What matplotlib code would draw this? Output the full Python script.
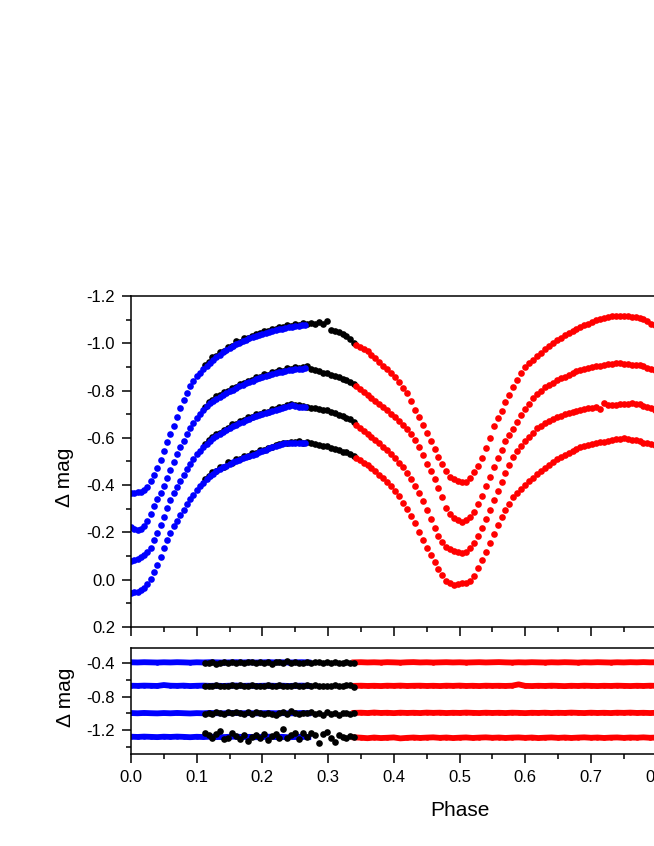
import numpy as np
import matplotlib.pyplot as plt
from matplotlib.ticker import MultipleLocator, FuncFormatter

plt.rcParams['font.family'] = ['Liberation Sans', 'DejaVu Sans']
plt.rcParams['axes.unicode_minus'] = False

#%% Curvas de luz (fase y diferencia de magnitud de cada banda)

# Fases de cada conjunto de datos
fase_azul = [0.000, 0.005, 0.010, 0.015, 0.020, 0.025, 0.030, 0.035, 0.040, 0.045,
             0.050, 0.055, 0.060, 0.065, 0.070, 0.075, 0.080, 0.085, 0.090, 0.095,
             0.100, 0.105, 0.110, 0.115, 0.120, 0.125, 0.130, 0.135, 0.140, 0.145,
             0.150, 0.155, 0.160, 0.165, 0.170, 0.175, 0.180, 0.185, 0.190, 0.195,
             0.200, 0.205, 0.210, 0.215, 0.220, 0.225, 0.230, 0.235, 0.240, 0.245,
             0.250, 0.255, 0.260, 0.265]

fase_negra = [0.112, 0.118, 0.124, 0.130, 0.136, 0.142, 0.148, 0.154, 0.160, 0.166,
              0.172, 0.178, 0.184, 0.190, 0.196, 0.202, 0.208, 0.214, 0.220, 0.226,
              0.232, 0.238, 0.244, 0.250, 0.256, 0.262, 0.268, 0.274, 0.280, 0.286,
              0.292, 0.298, 0.304, 0.310, 0.316, 0.322, 0.328, 0.334, 0.340]

fase_roja = [0.342, 0.348, 0.354, 0.360, 0.366, 0.372, 0.378, 0.384, 0.390, 0.396,
             0.402, 0.408, 0.414, 0.420, 0.426, 0.432, 0.438, 0.444, 0.450, 0.456,
             0.462, 0.468, 0.474, 0.480, 0.486, 0.492, 0.498, 0.504, 0.510, 0.516,
             0.522, 0.528, 0.534, 0.540, 0.546, 0.552, 0.558, 0.564, 0.570, 0.576,
             0.582, 0.588, 0.594, 0.600, 0.606, 0.612, 0.618, 0.624, 0.630, 0.636,
             0.642, 0.648, 0.654, 0.660, 0.666, 0.672, 0.678, 0.684, 0.690, 0.696,
             0.702, 0.708, 0.714, 0.720, 0.726, 0.732, 0.738, 0.744, 0.750, 0.756,
             0.762, 0.768, 0.774, 0.780, 0.786, 0.792, 0.798]

# Curva 1 (arriba)
azul_1 = [-0.366, -0.368, -0.369, -0.371, -0.378, -0.394, -0.418, -0.442, -0.474, -0.505,
          -0.543, -0.582, -0.618, -0.652, -0.690, -0.726, -0.760, -0.790, -0.818, -0.842,
          -0.860, -0.876, -0.890, -0.903, -0.917, -0.930, -0.942, -0.952, -0.961, -0.970,
          -0.979, -0.988, -0.996, -1.003, -1.009, -1.015, -1.021, -1.026, -1.031, -1.036,
          -1.040, -1.044, -1.048, -1.052, -1.056, -1.059, -1.062, -1.065, -1.068, -1.070,
          -1.072, -1.074, -1.075, -1.076]
negra_1 = [-0.910, -0.922, -0.940, -0.945, -0.963, -0.967, -0.985, -0.990, -1.008, -1.004,
           -1.021, -1.024, -1.031, -1.038, -1.042, -1.050, -1.051, -1.061, -1.059, -1.068,
           -1.067, -1.076, -1.072, -1.082, -1.078, -1.085, -1.080, -1.086, -1.080, -1.088,
           -1.082, -1.094, -1.056, -1.050, -1.046, -1.038, -1.030, -1.016, -1.003]
roja_1 = [-0.993, -0.985, -0.975, -0.966, -0.952, -0.937, -0.922, -0.905, -0.890, -0.876,
          -0.858, -0.838, -0.812, -0.788, -0.755, -0.718, -0.686, -0.655, -0.620, -0.588,
          -0.553, -0.518, -0.488, -0.458, -0.436, -0.424, -0.416, -0.412, -0.414, -0.432,
          -0.456, -0.480, -0.515, -0.556, -0.600, -0.648, -0.684, -0.715, -0.750, -0.783,
          -0.815, -0.846, -0.875, -0.898, -0.917, -0.931, -0.945, -0.960, -0.975, -0.988,
          -1.000, -1.012, -1.024, -1.034, -1.044, -1.053, -1.062, -1.069, -1.076, -1.083,
          -1.090, -1.097, -1.103, -1.108, -1.112, -1.114, -1.116, -1.116, -1.115, -1.114,
          -1.112, -1.110, -1.106, -1.101, -1.094, -1.083, -1.077]

# Curva 2
azul_2 = [-0.222, -0.214, -0.210, -0.216, -0.228, -0.248, -0.276, -0.310, -0.340, -0.366,
          -0.395, -0.428, -0.462, -0.497, -0.530, -0.560, -0.588, -0.614, -0.640, -0.664,
          -0.684, -0.702, -0.718, -0.733, -0.746, -0.757, -0.766, -0.774, -0.781, -0.788,
          -0.796, -0.804, -0.811, -0.818, -0.824, -0.830, -0.836, -0.841, -0.847, -0.852,
          -0.857, -0.862, -0.866, -0.870, -0.874, -0.877, -0.880, -0.883, -0.886, -0.888,
          -0.890, -0.892, -0.893, -0.894]
negra_2 = [-0.730, -0.750, -0.760, -0.775, -0.780, -0.792, -0.797, -0.812, -0.816, -0.828,
           -0.830, -0.842, -0.845, -0.856, -0.856, -0.868, -0.866, -0.878, -0.877, -0.886,
           -0.884, -0.894, -0.891, -0.898, -0.895, -0.900, -0.904, -0.892, -0.887, -0.882,
           -0.876, -0.872, -0.866, -0.860, -0.856, -0.850, -0.845, -0.836, -0.826]
roja_2 = [-0.820, -0.805, -0.792, -0.780, -0.767, -0.755, -0.745, -0.730, -0.716, -0.702,
          -0.688, -0.672, -0.656, -0.637, -0.615, -0.591, -0.560, -0.528, -0.490, -0.458,
          -0.425, -0.388, -0.348, -0.305, -0.278, -0.262, -0.252, -0.246, -0.252, -0.263,
          -0.285, -0.318, -0.352, -0.395, -0.436, -0.478, -0.516, -0.550, -0.585, -0.612,
          -0.638, -0.665, -0.695, -0.722, -0.745, -0.770, -0.786, -0.800, -0.813, -0.824,
          -0.833, -0.843, -0.851, -0.859, -0.867, -0.875, -0.881, -0.887, -0.892, -0.896,
          -0.899, -0.902, -0.905, -0.908, -0.911, -0.913, -0.915, -0.916, -0.914, -0.912,
          -0.910, -0.908, -0.906, -0.902, -0.897, -0.891, -0.885]

# Curva 3
azul_3 = [-0.080, -0.083, -0.088, -0.094, -0.103, -0.116, -0.136, -0.168, -0.198, -0.232,
          -0.267, -0.302, -0.338, -0.368, -0.392, -0.418, -0.442, -0.466, -0.490, -0.512,
          -0.530, -0.546, -0.560, -0.574, -0.587, -0.598, -0.607, -0.616, -0.626, -0.635,
          -0.643, -0.650, -0.656, -0.662, -0.668, -0.674, -0.680, -0.686, -0.691, -0.696,
          -0.701, -0.705, -0.709, -0.713, -0.717, -0.721, -0.725, -0.729, -0.734, -0.738,
          -0.733, -0.731, -0.731, -0.732]
negra_3 = [-0.572, -0.592, -0.604, -0.618, -0.621, -0.634, -0.643, -0.658, -0.660, -0.672,
           -0.674, -0.687, -0.689, -0.700, -0.700, -0.711, -0.711, -0.721, -0.722, -0.730,
           -0.729, -0.738, -0.744, -0.740, -0.737, -0.736, -0.732, -0.728, -0.724, -0.722,
           -0.716, -0.716, -0.708, -0.705, -0.698, -0.694, -0.685, -0.678, -0.668]
roja_3 = [-0.655, -0.640, -0.628, -0.616, -0.604, -0.592, -0.578, -0.562, -0.547, -0.532,
          -0.515, -0.495, -0.475, -0.452, -0.425, -0.396, -0.366, -0.334, -0.296, -0.255,
          -0.218, -0.185, -0.158, -0.140, -0.128, -0.120, -0.115, -0.112, -0.118, -0.132,
          -0.155, -0.185, -0.220, -0.258, -0.295, -0.336, -0.375, -0.415, -0.452, -0.487,
          -0.518, -0.545, -0.566, -0.586, -0.605, -0.622, -0.640, -0.652, -0.662, -0.670,
          -0.679, -0.687, -0.694, -0.700, -0.705, -0.710, -0.715, -0.719, -0.722, -0.725,
          -0.728, -0.731, -0.720, -0.748, -0.740, -0.738, -0.740, -0.742, -0.743, -0.745,
          -0.746, -0.745, -0.742, -0.736, -0.730, -0.724, -0.718]

# Curva 4 (abajo)
azul_4 = [0.055, 0.052, 0.050, 0.045, 0.036, 0.020, -0.002, -0.032, -0.062, -0.097,
          -0.132, -0.166, -0.198, -0.226, -0.250, -0.274, -0.296, -0.318, -0.340, -0.360,
          -0.378, -0.395, -0.410, -0.424, -0.437, -0.448, -0.458, -0.467, -0.475, -0.482,
          -0.489, -0.496, -0.502, -0.508, -0.513, -0.518, -0.523, -0.528, -0.533, -0.538,
          -0.543, -0.548, -0.555, -0.561, -0.566, -0.570, -0.574, -0.577, -0.579, -0.580,
          -0.580, -0.579, -0.578, -0.577]
negra_4 = [-0.426, -0.440, -0.456, -0.461, -0.476, -0.478, -0.496, -0.494, -0.512, -0.509,
           -0.522, -0.522, -0.536, -0.535, -0.547, -0.548, -0.558, -0.563, -0.571, -0.572,
           -0.580, -0.579, -0.584, -0.582, -0.586, -0.580, -0.582, -0.576, -0.574, -0.570,
           -0.566, -0.565, -0.558, -0.553, -0.548, -0.542, -0.538, -0.530, -0.524]
roja_4 = [-0.515, -0.505, -0.494, -0.483, -0.471, -0.458, -0.444, -0.430, -0.412, -0.395,
          -0.376, -0.352, -0.325, -0.297, -0.268, -0.239, -0.202, -0.168, -0.136, -0.105,
          -0.074, -0.045, -0.018, 0.004, 0.015, 0.021, 0.020, 0.016, 0.012, 0.004,
          -0.014, -0.050, -0.082, -0.118, -0.156, -0.194, -0.232, -0.265, -0.293, -0.322,
          -0.348, -0.368, -0.384, -0.400, -0.417, -0.432, -0.446, -0.460, -0.474, -0.487,
          -0.499, -0.510, -0.520, -0.528, -0.536, -0.544, -0.552, -0.559, -0.564, -0.569,
          -0.574, -0.578, -0.581, -0.584, -0.587, -0.590, -0.593, -0.596, -0.598, -0.594,
          -0.592, -0.590, -0.586, -0.580, -0.576, -0.573, -0.570]

#%% Residuos (panel de abajo)

res_fase_azul = [0.00, 0.01, 0.02, 0.03, 0.04, 0.05, 0.06, 0.07, 0.08, 0.09,
                 0.10, 0.11, 0.12, 0.13, 0.14, 0.15, 0.16, 0.17, 0.18, 0.19,
                 0.20, 0.21, 0.22, 0.23, 0.24, 0.25, 0.26, 0.27]
res_fase_roja = [0.34, 0.35, 0.36, 0.37, 0.38, 0.39, 0.40, 0.41, 0.42, 0.43,
                 0.44, 0.45, 0.46, 0.47, 0.48, 0.49, 0.50, 0.51, 0.52, 0.53,
                 0.54, 0.55, 0.56, 0.57, 0.58, 0.59, 0.60, 0.61, 0.62, 0.63,
                 0.64, 0.65, 0.66, 0.67, 0.68, 0.69, 0.70, 0.71, 0.72, 0.73,
                 0.74, 0.75, 0.76, 0.77, 0.78, 0.79, 0.80]

res_azul_1 = [-0.387, -0.389, -0.386, -0.388, -0.390, -0.387, -0.389, -0.386, -0.388, -0.391,
              -0.387, -0.389, -0.386, -0.388, -0.390, -0.388, -0.386, -0.389, -0.387, -0.390,
              -0.388, -0.386, -0.389, -0.387, -0.390, -0.388, -0.386, -0.389]
res_azul_2 = [-0.668, -0.670, -0.667, -0.669, -0.671, -0.660, -0.668, -0.670, -0.667, -0.672,
              -0.669, -0.667, -0.670, -0.668, -0.671, -0.668, -0.666, -0.670, -0.668, -0.671,
              -0.669, -0.667, -0.670, -0.668, -0.671, -0.669, -0.667, -0.670]
res_azul_3 = [-0.996, -0.999, -0.995, -0.998, -1.000, -0.996, -0.999, -0.995, -0.998, -1.001,
              -0.997, -0.999, -0.995, -0.998, -1.000, -0.997, -0.995, -0.999, -0.997, -1.000,
              -0.998, -0.996, -0.999, -0.997, -1.000, -0.998, -0.996, -0.999]
res_azul_4 = [-1.280, -1.283, -1.279, -1.282, -1.285, -1.280, -1.283, -1.279, -1.282, -1.286,
              -1.281, -1.284, -1.280, -1.283, -1.285, -1.281, -1.279, -1.284, -1.282, -1.286,
              -1.283, -1.280, -1.284, -1.282, -1.287, -1.283, -1.280, -1.284]

res_negra_1 = [-0.392, -0.398, -0.384, -0.404, -0.390, -0.380, -0.396, -0.386, -0.400, -0.382,
               -0.394, -0.388, -0.378, -0.398, -0.386, -0.392, -0.380, -0.402, -0.388, -0.384,
               -0.396, -0.376, -0.392, -0.386, -0.400, -0.390, -0.382, -0.396, -0.386, -0.378,
               -0.394, -0.388, -0.398, -0.384, -0.392, -0.396, -0.388, -0.394, -0.390]
res_negra_2 = [-0.672, -0.668, -0.676, -0.662, -0.670, -0.666, -0.674, -0.660, -0.670, -0.664,
               -0.672, -0.668, -0.660, -0.674, -0.666, -0.670, -0.662, -0.676, -0.668, -0.654,
               -0.672, -0.666, -0.670, -0.662, -0.674, -0.668, -0.664, -0.672, -0.660, -0.670,
               -0.666, -0.674, -0.668, -0.662, -0.676, -0.670, -0.664, -0.660, -0.684]
res_negra_3 = [-1.002, -0.990, -1.008, -0.982, -0.996, -1.010, -0.986, -1.000, -0.978, -0.994,
               -1.006, -0.988, -1.002, -0.980, -0.998, -1.012, -0.990, -1.004, -1.016, -0.996,
               -0.984, -1.002, -0.970, -0.994, -1.008, -0.990, -1.000, -0.982, -1.012, -0.996,
               -1.020, -0.988, -1.006, -0.994, -1.014, -1.000, -0.990, -1.008, -1.000]
res_negra_4 = [-1.230, -1.265, -1.300, -1.250, -1.215, -1.310, -1.290, -1.240, -1.270, -1.305,
               -1.255, -1.335, -1.280, -1.260, -1.300, -1.245, -1.320, -1.270, -1.250, -1.290,
               -1.185, -1.300, -1.260, -1.230, -1.310, -1.240, -1.280, -1.230, -1.265, -1.350,
               -1.250, -1.225, -1.290, -1.345, -1.260, -1.280, -1.300, -1.270, -1.285]

res_roja_1 = [-0.388, -0.386, -0.389, -0.387, -0.390, -0.386, -0.388, -0.391, -0.387, -0.385,
              -0.389, -0.387, -0.390, -0.388, -0.386, -0.389, -0.387, -0.390, -0.388, -0.386,
              -0.389, -0.387, -0.385, -0.388, -0.390, -0.387, -0.389, -0.386, -0.388, -0.390,
              -0.387, -0.389, -0.386, -0.388, -0.391, -0.387, -0.389, -0.386, -0.388, -0.390,
              -0.387, -0.389, -0.386, -0.388, -0.385, -0.388, -0.387]
res_roja_2 = [-0.670, -0.668, -0.671, -0.669, -0.672, -0.668, -0.670, -0.667, -0.671, -0.669,
              -0.668, -0.671, -0.669, -0.672, -0.668, -0.670, -0.667, -0.671, -0.669, -0.672,
              -0.668, -0.670, -0.669, -0.671, -0.668, -0.652, -0.670, -0.672, -0.669, -0.671,
              -0.668, -0.670, -0.673, -0.669, -0.671, -0.668, -0.670, -0.672, -0.669, -0.671,
              -0.668, -0.670, -0.672, -0.669, -0.671, -0.668, -0.670]
res_roja_3 = [-0.994, -0.992, -0.996, -0.990, -0.995, -0.993, -0.997, -0.992, -0.995, -0.993,
              -0.996, -0.991, -0.994, -0.992, -0.996, -0.993, -0.995, -0.991, -0.994, -0.996,
              -0.992, -0.995, -0.993, -0.996, -0.992, -0.994, -0.997, -0.993, -0.995, -0.992,
              -0.996, -0.993, -0.995, -0.991, -0.994, -0.996, -0.992, -0.995, -0.993, -0.996,
              -0.992, -0.994, -0.991, -0.995, -0.993, -0.996, -0.993]
res_roja_4 = [-1.288, -1.292, -1.298, -1.290, -1.296, -1.293, -1.289, -1.300, -1.294, -1.290,
              -1.295, -1.291, -1.288, -1.294, -1.290, -1.296, -1.292, -1.289, -1.295, -1.291,
              -1.288, -1.293, -1.290, -1.295, -1.291, -1.289, -1.294, -1.290, -1.296, -1.292,
              -1.289, -1.294, -1.290, -1.295, -1.291, -1.288, -1.293, -1.290, -1.295, -1.291,
              -1.289, -1.294, -1.290, -1.292, -1.288, -1.293, -1.290]

#%% Grafico

fig = plt.figure(figsize=(6.54, 8.46), dpi=100)
# el eje de fase sigue hasta 1.0 pero la imagen esta recortada a la derecha
ax1 = fig.add_axes([0.2003, 0.2589, 1.0046, 0.3913])
ax2 = fig.add_axes([0.2003, 0.1093, 1.0046, 0.1247])

ms = 4.8
for neg, az, ro in [(negra_1, azul_1, roja_1), (negra_2, azul_2, roja_2),
                    (negra_3, azul_3, roja_3), (negra_4, azul_4, roja_4)]:
    ax1.plot(fase_negra, neg, 'o', color='black', ms=ms, mew=0)
    ax1.plot(fase_azul, az, 'o', color='#0000ff', ms=ms, mew=0)
    ax1.plot(fase_roja, ro, 'o', color='#ff0000', ms=ms, mew=0)

for az, neg, ro in [(res_azul_1, res_negra_1, res_roja_1), (res_azul_2, res_negra_2, res_roja_2),
                    (res_azul_3, res_negra_3, res_roja_3), (res_azul_4, res_negra_4, res_roja_4)]:
    ax2.plot(res_fase_azul, az, '-o', color='#0000ff', lw=4.2, ms=3.2, mew=0)
    ax2.plot(res_fase_roja, ro, '-o', color='#ff0000', lw=4.2, ms=3.2, mew=0)
    ax2.plot(fase_negra, neg, 'o', color='black', ms=4.8, mew=0)


def fmt(v, pos):
    s = '%.1f' % v
    return '0.0' if s == '-0.0' else s


for ax in (ax1, ax2):
    ax.set_xlim(0, 1.0)
    ax.xaxis.set_major_locator(MultipleLocator(0.1))
    ax.xaxis.set_minor_locator(MultipleLocator(0.05))
    ax.xaxis.set_major_formatter(FuncFormatter(fmt))
    ax.yaxis.set_major_formatter(FuncFormatter(fmt))
    ax.tick_params(which='both', direction='out', top=False, right=False,
                   width=1.1, labelsize=12, pad=5)
    ax.tick_params(which='major', length=6.5)
    ax.tick_params(which='minor', length=3.3)
    for sp in ax.spines.values():
        sp.set_linewidth(1.1)

ax1.set_ylim(0.2, -1.2)
ax1.yaxis.set_major_locator(MultipleLocator(0.2))
ax1.yaxis.set_minor_locator(MultipleLocator(0.1))
ax1.tick_params(labelbottom=False)
ax1.set_ylabel('Δ mag', fontsize=15)
ax1.yaxis.set_label_coords(-0.087, 0.453)

ax2.set_ylim(-1.482, -0.216)
ax2.yaxis.set_major_locator(MultipleLocator(0.4))
ax2.yaxis.set_minor_locator(MultipleLocator(0.2))
ax2.set_ylabel('Δ mag', fontsize=15)
ax2.yaxis.set_label_coords(-0.085, 0.536)
ax2.set_xlabel('Phase', fontsize=15)
ax2.xaxis.set_label_coords(0.5, -0.45)

fig.savefig('out.png', dpi=100)
